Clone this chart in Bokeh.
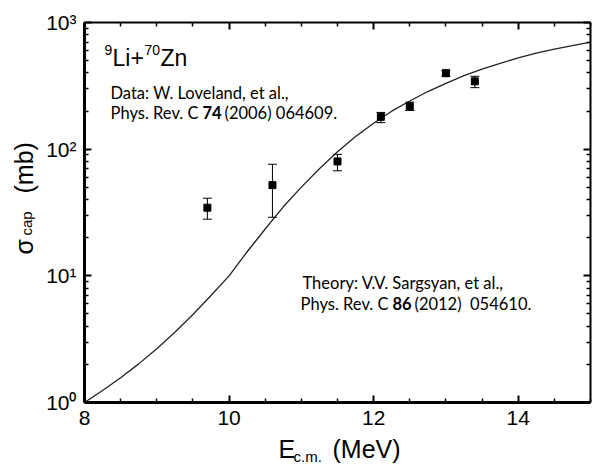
import numpy as np
from bokeh.plotting import figure
from bokeh.layouts import row, column
from bokeh.models import (ColumnDataSource, Whisker, TeeHead, LinearAxis, LogAxis,
                          FixedTicker, Label, Range1d, CustomJSTickFormatter)
from bokeh.embed import file_html
from bokeh.resources import INLINE

# ---------------- data ----------------
e_exp = [9.7, 10.6, 11.5, 12.1, 12.5, 13.0, 13.4]
sigma_exp = [34.5, 52.0, 80.0, 180.0, 218.0, 398.0, 343.0]
sigma_hi = [41.0, 76.0, 91.0, 195.0, 235.0, 420.0, 376.0]
sigma_lo = [28.0, 29.0, 67.5, 162.0, 202.0, 377.0, 306.0]

e_theory = [8.0, 8.25, 8.5, 8.75, 9.0, 9.25, 9.5, 9.75, 10.0, 10.25, 10.5, 10.75,
            11.0, 11.25, 11.5, 11.75, 12.0, 12.25, 12.5, 12.75, 13.0, 13.25, 13.5,
            13.75, 14.0, 14.25, 14.5, 14.75, 15.0]
sigma_theory = [1.0, 1.245, 1.567, 2.018, 2.661, 3.589, 4.955, 6.998, 10.0, 15.49, 23.44,
                35.08, 50.12, 69.98, 95.5, 125.9, 160.3, 199.5, 239.9, 285.1, 331.1,
                380.2, 428.5, 476.4, 524.8, 572.8, 616.6, 657.7, 700.0]

x_ticks = [8, 10, 12, 14]
x_tick_labels = ["8", "10", "12", "14"]
x_minor = [8.5, 9, 9.5, 10.5, 11, 11.5, 12.5, 13, 13.5, 14.5, 15]
y_ticks = [1, 10, 100, 1000]
y_tick_labels = ["10\u2070", "10\u00b9", "10\u00b2", "10\u00b3"]
y_minor = [m * 10 ** k for k in range(3) for m in range(2, 10)]

TICK_FONT = "Liberation Sans"
NOTE_FONT = "Lato"
NOTE_SIZE = "16.5px"

W, H = 595, 466
W_LEFT, H_BOTTOM = 40, 30          # y-title strip width, x-title strip height
B_LEFT, B_RIGHT = 44, 5             # borders of the main plot (frame 506 px wide)


def strip(width, height, b_left=0, b_right=0):
    f = figure(width=width, height=height, x_range=Range1d(0, width - b_left - b_right),
               y_range=Range1d(0, height), output_backend="svg", toolbar_location=None,
               x_axis_location=None, y_axis_location=None,
               min_border_left=b_left, min_border_right=b_right,
               min_border_top=0, min_border_bottom=0)
    f.grid.visible = False
    f.outline_line_color = None
    return f


# ---------------- main figure ----------------
p = figure(width=W - W_LEFT, height=H - H_BOTTOM, x_range=Range1d(8, 15),
           y_range=Range1d(1, 1000), y_axis_type="log", output_backend="svg",
           toolbar_location=None,
           min_border_left=B_LEFT, min_border_right=B_RIGHT,
           min_border_top=22, min_border_bottom=34)
p.grid.visible = False
p.outline_line_color = None


def style_axis(ax, width, ticks, minor):
    ax.ticker = FixedTicker(ticks=ticks, minor_ticks=minor)
    ax.axis_line_width = width
    ax.axis_line_color = "black"
    ax.major_tick_in = 7
    ax.major_tick_out = 0
    ax.minor_tick_in = 4
    ax.minor_tick_out = 0
    ax.major_tick_line_width = 2
    ax.minor_tick_line_width = 1.5
    ax.major_tick_line_color = "black"
    ax.minor_tick_line_color = "black"


xb = p.xaxis[0]
style_axis(xb, 3, x_ticks, x_minor)
xb.major_label_overrides = {t: l for t, l in zip(x_ticks, x_tick_labels)}
xb.major_label_text_font = TICK_FONT
xb.major_label_text_font_size = "21px"
xb.major_label_text_color = "black"
xb.major_label_standoff = 8

yl = p.yaxis[0]
style_axis(yl, 3, y_ticks, y_minor)
yl.major_label_overrides = {t: l for t, l in zip(y_ticks, y_tick_labels)}
yl.major_label_text_font = TICK_FONT
yl.major_label_text_font_size = "21px"
yl.major_label_text_color = "black"
yl.major_label_standoff = 8

xt = LinearAxis(formatter=CustomJSTickFormatter(code="return ''"), major_label_standoff=0)
style_axis(xt, 2, x_ticks, x_minor)
p.add_layout(xt, "above")

yr = LogAxis(formatter=CustomJSTickFormatter(code="return ''"), major_label_standoff=0)
style_axis(yr, 2, y_ticks, y_minor)
p.add_layout(yr, "right")

p.line(e_theory, sigma_theory, line_color="#222222", line_width=1.3)

src = ColumnDataSource(dict(x=e_exp, y=sigma_exp, hi=sigma_hi, lo=sigma_lo))
p.add_layout(Whisker(source=src, base="x", upper="hi", lower="lo",
                     line_color="black", line_width=1,
                     upper_head=TeeHead(size=9, line_color="black", line_width=1),
                     lower_head=TeeHead(size=9, line_color="black", line_width=1)))
p.scatter("x", "y", source=src, marker="square", size=7, fill_color="black",
          line_color="black")


def lab(fig, text, x, y, size, font=TICK_FONT, style="normal", angle=0.0, align="left",
        dx=0, dy=0):
    fig.add_layout(Label(x=x, y=y, x_offset=dx, y_offset=dy, text=text, angle=angle,
                         text_font=font, text_font_size=size, text_font_style=style,
                         text_color="black", text_align=align,
                         text_baseline="alphabetic"))


# texts inside the frame: offsets in pixels from its lower-left corner (8, 1)
lab(p, "9", 8, 1, "14px", dx=20, dy=353)
lab(p, "Li+", 8, 1, "23px", dx=28, dy=345)
lab(p, "70", 8, 1, "14px", dx=60, dy=353)
lab(p, "Zn", 8, 1, "23px", dx=76, dy=345)

lab(p, "Data: W. Loveland, et al.,", 8, 1, NOTE_SIZE, font=NOTE_FONT, dx=26, dy=310)
lab(p, "Phys. Rev. C", 8, 1, NOTE_SIZE, font=NOTE_FONT, align="right", dx=114, dy=290)
lab(p, "74", 8, 1, NOTE_SIZE, font=NOTE_FONT, style="bold", dx=118, dy=290)
lab(p, "(2006) 064609.", 8, 1, NOTE_SIZE, font=NOTE_FONT, dx=140, dy=290)

lab(p, "Theory: V.V. Sargsyan, et al.,", 8, 1, NOTE_SIZE, font=NOTE_FONT, dx=218, dy=120)
lab(p, "Phys. Rev. C", 8, 1, NOTE_SIZE, font=NOTE_FONT, align="right", dx=304, dy=99)
lab(p, "86", 8, 1, NOTE_SIZE, font=NOTE_FONT, style="bold", dx=308, dy=99)
lab(p, "(2012)\u00a0 054610.", 8, 1, NOTE_SIZE, font=NOTE_FONT, dx=330, dy=99)

# ---------------- x title strip (frame aligned with the main frame) ----------------
fx = strip(W - W_LEFT, H_BOTTOM, B_LEFT, B_RIGHT)
lab(fx, "E", 194, 18, "25px")
lab(fx, "c.m.", 209, 10, "15px")
lab(fx, "(MeV)", 248, 18, "25px")

# ---------------- y title strip ----------------
fy = strip(W_LEFT, H)
lab(fy, "\u03c3", 23, 212, "25px", angle=np.pi / 2)
lab(fy, "cap", 26, 231, "15px", angle=np.pi / 2)
lab(fy, "(mb)", 23, 273, "25px", angle=np.pi / 2)

layout = row(fy, column(p, fx, spacing=0), spacing=0)

open("out.html", "w").write(file_html(layout, INLINE))
